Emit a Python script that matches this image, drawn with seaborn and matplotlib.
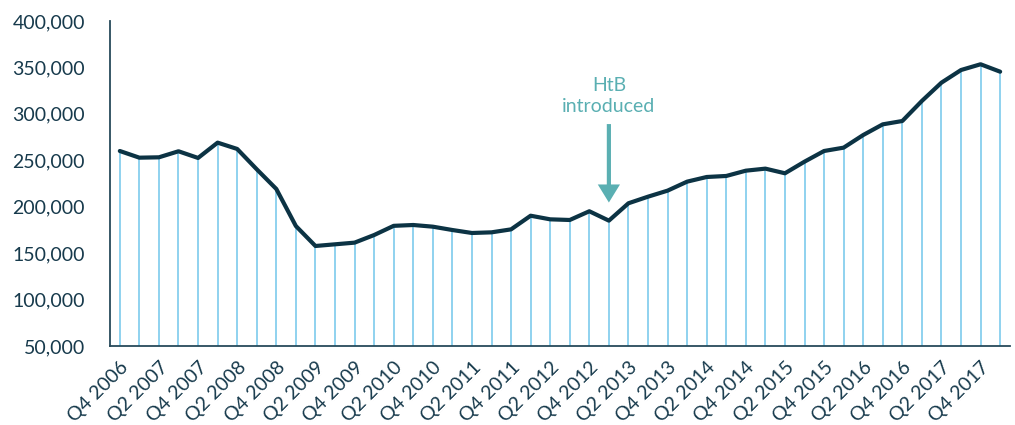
import numpy as np
import pandas as pd
import seaborn as sns
import matplotlib.pyplot as plt

# quarterly values, Q4 2006 .. Q1 2018
quarters = []
for i in range(46):
    q = (3 + i) % 4 + 1
    yr = 2006 + (3 + i) // 4
    quarters.append(f"Q{q} {yr}")

values = [260000, 252800, 253200, 259700, 252500, 269000, 262200, 240300,
          219100, 179200, 157700, 159500, 161300, 169500, 179400, 180300,
          178500, 174900, 171700, 172400, 175600, 190300, 186400, 185700,
          195100, 185000, 203700, 210800, 217300, 227000, 232000, 233100,
          238800, 241000, 236000, 248500, 260000, 263600, 277200, 288700,
          292300, 313900, 333600, 347200, 353400, 345400]

tick_labels = quarters[::2]
y_ticks = [50000, 100000, 150000, 200000, 250000, 300000, 350000, 400000]

sns.set_style("white")
plt.rcParams['font.family'] = ['Lato', 'DejaVu Sans']

df = pd.DataFrame({'pos': np.arange(len(values)), 'quarter': quarters, 'value': values})

navy = '#0c3344'
text_col = '#173a4c'
stem_col = '#8fd2ef'
teal = '#5aafb2'

fig, ax = plt.subplots(figsize=(10.15, 4.25), dpi=100)
fig.subplots_adjust(left=0.1084, right=0.995, top=0.9506, bottom=0.1859)

ax.vlines(df['pos'], 50000, df['value'], color=stem_col, linewidth=1.4, zorder=1)
sns.lineplot(data=df, x='pos', y='value', color=navy, linewidth=3, ax=ax, zorder=3)

ax.set_xlim(-0.5, len(values) - 0.5)
ax.set_ylim(50000, 400000)
ax.set_yticks(y_ticks)
ax.set_yticklabels([f"{v:,}" for v in y_ticks], fontsize=14, color=text_col)
ax.set_xticks(df['pos'][::2])
ax.set_xticklabels(tick_labels, rotation=45, ha='right', rotation_mode='anchor',
                   fontsize=14, color=text_col)
ax.tick_params(axis='y', length=0, pad=18)
ax.tick_params(axis='x', length=0, pad=9)
ax.set_xlabel('')
ax.set_ylabel('')

for s in ['top', 'right']:
    ax.spines[s].set_visible(False)
for s in ['left', 'bottom']:
    ax.spines[s].set_color('#274a5a')
    ax.spines[s].set_linewidth(1.3)

# HtB annotation
ax.annotate('', xy=(25, 204500), xytext=(25, 289000),
            arrowprops=dict(facecolor=teal, edgecolor='none', width=3,
                            headwidth=16, headlength=13))
ax.text(25, 299000, 'HtB\nintroduced', ha='center', va='bottom',
        fontsize=14, color=teal, linespacing=1.3)

plt.savefig('out.png', dpi=100)
